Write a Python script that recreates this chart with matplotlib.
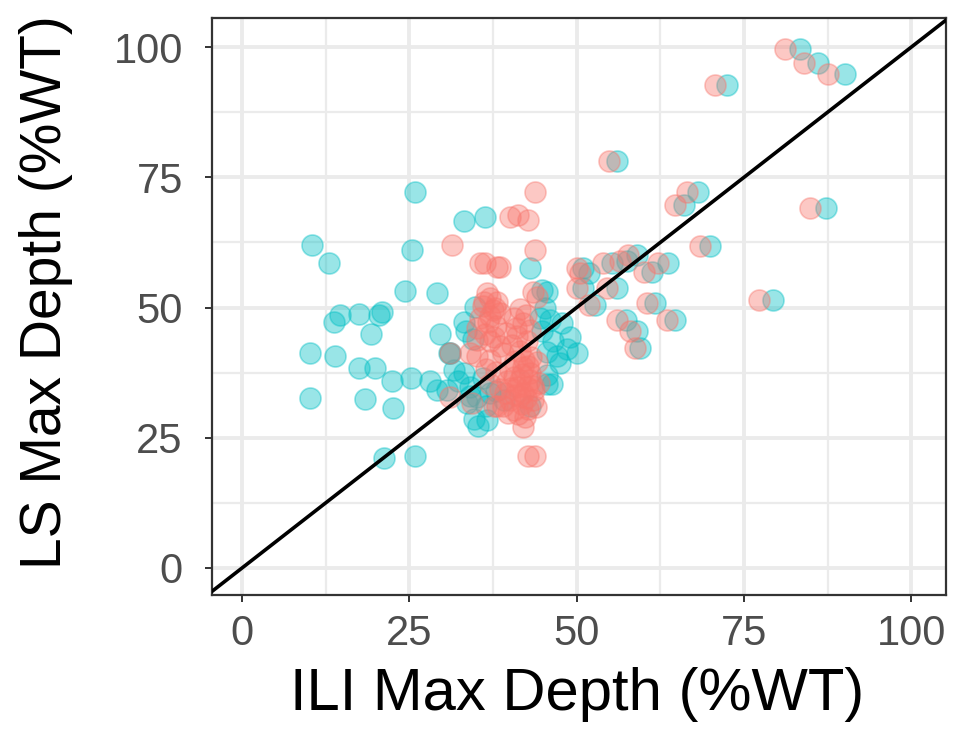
import numpy as np
import matplotlib
matplotlib.use("Agg")
from matplotlib import pyplot as plt

plt.rcParams['font.family'] = ['Liberation Sans', 'DejaVu Sans']

# paired points: (red x, cyan x, y)
pair_red_x = [81.2, 83.9, 87.6, 70.7, 84.9, 77.2, 54.8, 66.5, 64.7, 68.5, 50.0, 50.5, 54.0, 56.5,
              57.7, 60.0, 62.2, 50.0, 51.8, 54.5, 60.5, 56.0, 63.5, 58.0, 58.7]
pair_cyan_x = [83.4, 86.1, 90.1, 72.4, 87.3, 79.4, 56.0, 68.2, 66.0, 70.0, 51.0, 51.8, 55.3, 57.5,
               59.0, 61.2, 63.7, 51.0, 52.8, 56.0, 61.7, 57.3, 64.7, 59.0, 59.5]
pair_y = [99.7, 96.9, 94.8, 92.7, 69.2, 51.4, 78.2, 72.2, 69.7, 61.8, 57.5, 56.6, 58.6, 59.0,
          60.1, 56.9, 58.5, 53.7, 50.5, 53.7, 50.8, 47.6, 47.6, 45.4, 42.2]

# red-only points
red_x = [31.4, 35.6, 38.1, 40.1, 43.8, 41.3, 42.8, 43.8, 38.6, 36.3, 42.0, 42.8, 43.8, 31.1, 31.1,
         36.6, 37.1, 38.1, 36.0, 37.5, 38.6, 35.6, 36.8, 38.0, 35.1, 36.3, 37.6, 35.1, 37.1, 38.6,
         43.5, 44.0, 41.6, 42.4, 40.6, 42.0, 43.0, 41.1, 42.6, 40.3, 41.6,
         35.1, 37.1, 39.0, 40.1, 42.0, 43.0, 38.0, 36.4, 44.0,
         43.0, 41.1, 42.0, 43.5, 40.1, 39.0, 38.1, 37.1, 39.6, 40.6, 41.6, 42.6, 43.6, 44.4,
         39.3, 40.8, 41.8, 42.8, 40.6, 43.9, 38.6, 41.3, 39.8, 42.3, 34.4, 37.6, 34.1,
         41.8, 42.8, 43.2, 40.8, 41.5, 42.5, 43.4, 40.2, 37.0, 36.2, 37.8, 42.2, 41.0, 39.5]
red_y = [62.0, 58.5, 57.8, 67.4, 72.2, 67.8, 66.8, 61.0, 57.8, 58.5, 27.1, 21.4, 21.4, 41.2, 32.9,
         52.7, 51.8, 51.0, 50.2, 49.5, 48.9, 47.9, 47.2, 46.5, 46.0, 45.0, 44.3, 43.8, 43.6, 42.6,
         53.0, 52.0, 49.8, 48.6, 48.0, 47.0, 45.7, 44.6, 43.6, 42.8, 41.6,
         40.6, 39.9, 41.2, 38.0, 38.5, 37.4, 37.7, 38.2, 39.6,
         36.1, 34.8, 33.5, 32.2, 32.2, 31.0, 31.0, 35.4, 35.9, 36.6, 36.0, 34.8, 34.2, 35.5,
         33.6, 33.3, 31.4, 30.6, 30.4, 30.9, 34.3, 29.5, 29.8, 29.0, 31.7, 31.0, 41.2,
         37.2, 38.8, 40.5, 39.8, 33.0, 32.6, 35.0, 34.6, 48.4, 51.0, 50.0, 40.0, 46.0, 45.2]

# cyan-only points
cyan_x = [25.8, 33.1, 36.3, 10.4, 13.0, 25.4, 24.4, 29.2, 14.6, 13.7, 17.4, 20.9, 20.4, 19.2,
          10.2, 13.9, 17.4, 19.8, 22.4, 25.3, 28.1, 10.2, 18.4, 22.6, 21.2, 25.8,
          33.2, 29.6, 31.1, 31.6, 29.1, 30.6, 33.1, 34.1, 33.6, 35.1, 37.1, 35.3, 39.1, 43.0,
          43.0, 45.5, 44.8, 46.0, 47.8, 49.0, 47.0, 47.5, 50.0, 46.3, 45.3, 44.5, 33.5, 34.5,
          32.3, 34.0, 36.0, 38.0, 36.5, 44.8, 46.5, 45.5, 48.5, 45.6, 34.8, 34.6, 36.6, 30.9, 45.5]
cyan_y = [72.2, 66.7, 67.4, 62.0, 58.5, 61.0, 53.2, 52.8, 48.6, 47.3, 48.8, 49.2, 48.6, 45.0,
          41.3, 40.6, 38.3, 38.3, 35.8, 36.4, 35.8, 32.6, 32.4, 30.8, 21.2, 21.4,
          47.3, 44.9, 41.2, 38.0, 34.2, 34.2, 37.4, 34.8, 31.6, 32.9, 33.5, 27.2, 32.2, 31.0,
          57.5, 53.0, 53.4, 47.6, 47.0, 44.4, 40.6, 39.3, 41.2, 35.4, 50.0, 48.0, 45.5, 44.0,
          35.8, 33.0, 36.5, 34.0, 31.0, 45.5, 43.5, 41.5, 42.0, 37.0, 50.1, 28.6, 28.4, 41.2, 35.4]

red = '#F8766D'
cyan = '#00BFC4'

fig = plt.figure(figsize=(9.58, 7.46), dpi=100)
ax = fig.add_axes([0.2213, 0.2024, 0.7662, 0.7735])

ax.scatter(cyan_x + pair_cyan_x, cyan_y + pair_y, s=230, color=cyan, alpha=0.4,
           edgecolors=cyan, linewidths=1.2, zorder=3)
ax.scatter(red_x + pair_red_x, red_y + pair_y, s=230, color=red, alpha=0.4,
           edgecolors=red, linewidths=1.2, zorder=3)
ax.axline((0, 0), slope=1, color='black', lw=2.6, zorder=4)

ax.set_xlim(-4.5, 105.2)
ax.set_ylim(-5.2, 105.6)
ticks = [0, 25, 50, 75, 100]
ax.set_xticks(ticks)
ax.set_yticks(ticks)
ax.set_xticks([12.5, 37.5, 62.5, 87.5], minor=True)
ax.set_yticks([12.5, 37.5, 62.5, 87.5], minor=True)
ax.grid(which='major', color='#EBEBEB', lw=2.8, zorder=0)
ax.grid(which='minor', color='#EBEBEB', lw=1.6, zorder=0)
ax.set_axisbelow(True)
ax.tick_params(which='major', length=5, width=1.4, color='#333333', labelsize=30,
               labelcolor='#4D4D4D')
ax.tick_params(axis='x', pad=9)
ax.tick_params(axis='y', pad=16)
ax.tick_params(which='minor', length=0)
for sp in ax.spines.values():
    sp.set_color('#333333')
    sp.set_linewidth(1.6)

ax.set_xlabel('ILI Max Depth (%WT)', fontsize=43)
ax.set_ylabel('LS Max Depth (%WT)', fontsize=41)
ax.xaxis.set_label_coords(0.497, -0.125)
ax.yaxis.set_label_coords(-0.19, 0.525)

fig.savefig('out.png', dpi=100)
